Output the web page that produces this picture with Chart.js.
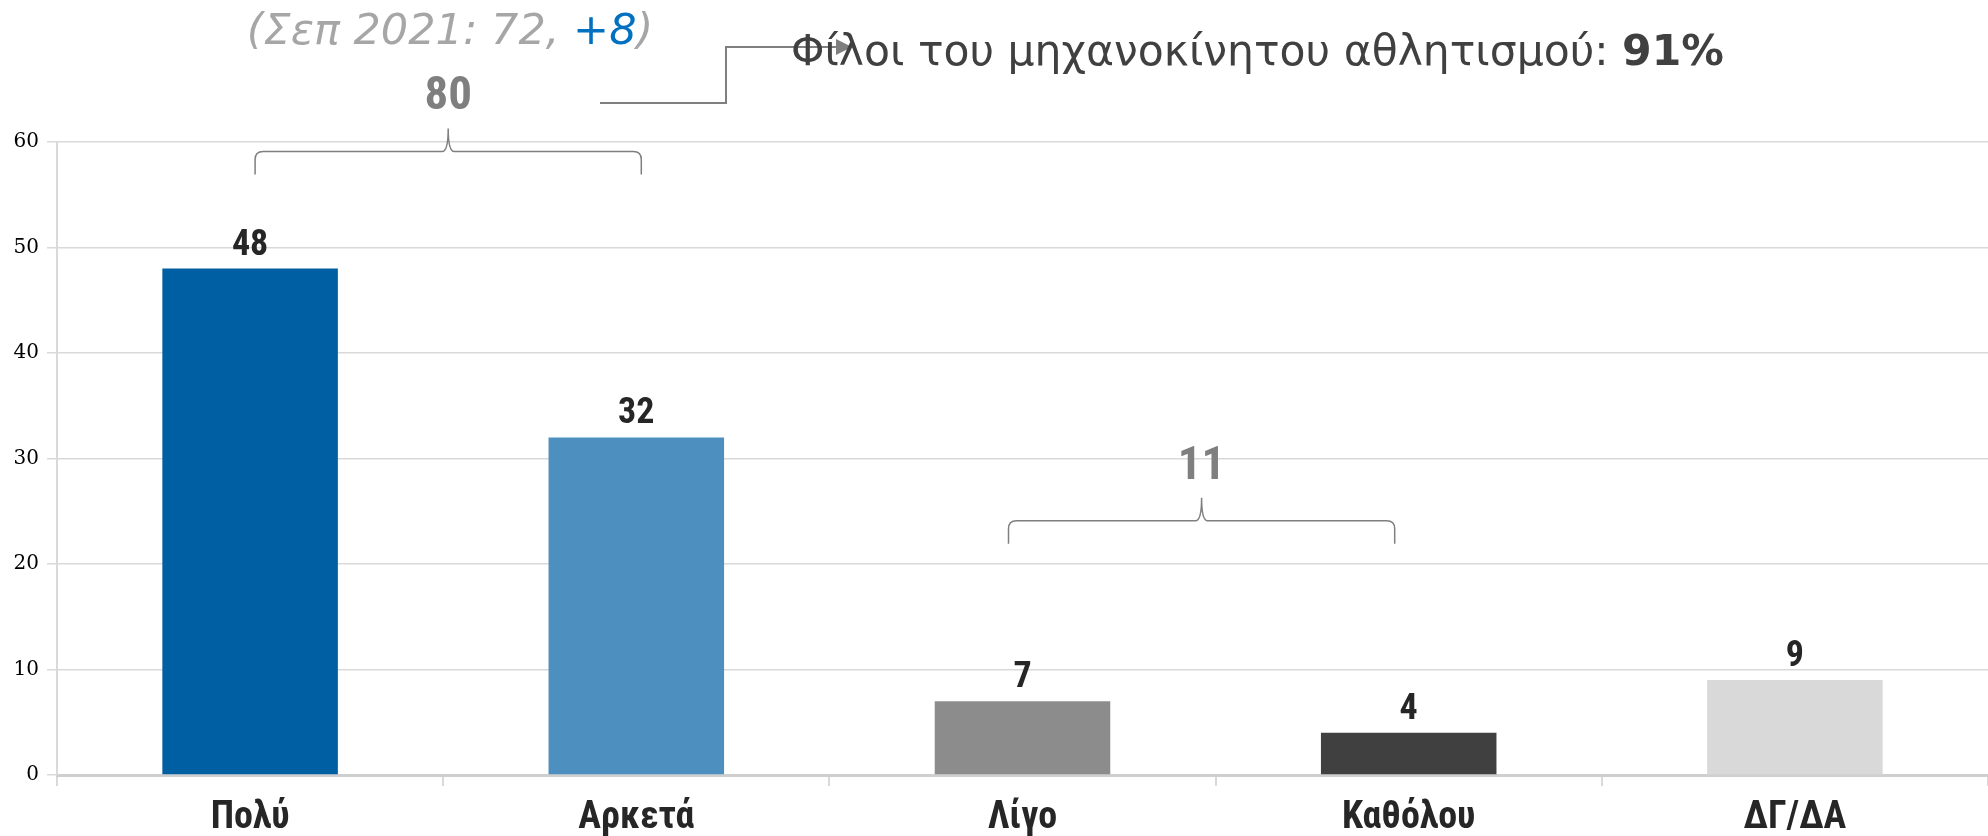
<!DOCTYPE html>
<html>
<head>
<meta charset="utf-8">
<script src="https://cdn.jsdelivr.net/npm/chart.js@4.4.1/dist/chart.umd.min.js"></script>
<style>
  html, body { margin: 0; padding: 0; background: #fff; }
  #wrap { position: relative; width: 1988px; height: 836px; }
</style>
</head>
<body>
<div id="wrap"><canvas id="chart" width="1988" height="836"></canvas></div>
<script>
// categories and values
const categories = ["Πολύ", "Αρκετά", "Λίγο", "Καθόλου", "ΔΓ/ΔΑ"];
const values = [48, 32, 7, 4, 9];
const barColors = ["#005ea2", "#4d8fbf", "#8c8c8c", "#404040", "#d9d9d9"];
const yTicks = [0, 10, 20, 30, 40, 50, 60];

// bracket groups: first / last category, sum label, bracket level (axis value)
const groupFirst = [0, 2];
const groupLast = [1, 3];
const groupSums = ["80", "11"];
const groupLevels = [59.1, 24.1];

// header texts
const prevText = "(Σεπ 2021: 72, ";
const prevDelta = "+8";
const fansText = "Φίλοι του μηχανοκίνητου αθλητισμού: ";
const fansValue = "91%";

const narrow = "'Roboto Condensed', 'DejaVu Sans Condensed', Roboto, sans-serif";

const annotations = {
  id: "annotations",
  afterDatasetsDraw(chart) {
    const ctx = chart.ctx;
    const x = chart.scales.x;
    const y = chart.scales.y;
    const meta = chart.getDatasetMeta(0);

    // value labels above bars
    ctx.save();
    ctx.fillStyle = "#262626";
    ctx.font = "bold 36px " + narrow;
    ctx.textAlign = "center";
    ctx.textBaseline = "alphabetic";
    meta.data.forEach((bar, i) => {
      ctx.fillText(String(values[i]), bar.x, bar.y - 14);
    });
    ctx.restore();

    // curly brackets with sums
    ctx.save();
    ctx.strokeStyle = "#7f7f7f";
    ctx.lineWidth = 1.5;
    groupFirst.forEach((f, g) => {
      const shift = g === 0 ? 5 : -14;
      const x1 = x.getPixelForValue(f) + shift;
      const x2 = x.getPixelForValue(groupLast[g]) + shift;
      const yb = y.getPixelForValue(groupLevels[g]);
      const mid = (x1 + x2) / 2;
      const r = 8;
      ctx.beginPath();
      ctx.moveTo(x1, yb + 23);
      ctx.lineTo(x1, yb + r);
      ctx.quadraticCurveTo(x1, yb, x1 + r, yb);
      ctx.lineTo(mid - 6, yb);
      ctx.quadraticCurveTo(mid, yb, mid, yb - 23);
      ctx.quadraticCurveTo(mid, yb, mid + 6, yb);
      ctx.lineTo(x2 - r, yb);
      ctx.quadraticCurveTo(x2, yb, x2, yb + r);
      ctx.lineTo(x2, yb + 23);
      ctx.stroke();

      ctx.fillStyle = "#7f7f7f";
      ctx.font = "bold 47px " + narrow;
      ctx.textAlign = "center";
      ctx.textBaseline = "alphabetic";
      ctx.fillText(groupSums[g], mid, yb - 42);
    });
    ctx.restore();
  },
  afterDraw(chart) {
    const ctx = chart.ctx;
    ctx.save();
    // previous wave text
    ctx.font = "italic 43px 'DejaVu Sans', sans-serif";
    ctx.textBaseline = "alphabetic";
    const w1 = ctx.measureText(prevText).width;
    const w2 = ctx.measureText(prevDelta).width;
    const w3 = ctx.measureText(")").width;
    const sx = 450 - (w1 + w2 + w3) / 2;
    ctx.fillStyle = "#a6a6a6";
    ctx.fillText(prevText, sx, 44);
    ctx.fillStyle = "#0070c0";
    ctx.fillText(prevDelta, sx + w1, 44);
    ctx.fillStyle = "#a6a6a6";
    ctx.fillText(")", sx + w1 + w2, 44);

    // connector arrow
    ctx.strokeStyle = "#7f7f7f";
    ctx.lineWidth = 2;
    ctx.beginPath();
    ctx.moveTo(600, 103);
    ctx.lineTo(726, 103);
    ctx.lineTo(726, 47);
    ctx.lineTo(838, 47);
    ctx.stroke();
    ctx.fillStyle = "#7f7f7f";
    ctx.beginPath();
    ctx.moveTo(852, 47);
    ctx.lineTo(836, 39);
    ctx.lineTo(836, 55);
    ctx.closePath();
    ctx.fill();

    // fans text
    ctx.fillStyle = "#404040";
    ctx.font = "42.5px 'DejaVu Sans', sans-serif";
    ctx.fillText(fansText, 791, 65);
    const wf = ctx.measureText(fansText).width;
    ctx.font = "bold 42.5px 'DejaVu Sans', sans-serif";
    ctx.fillText(fansValue, 791 + wf, 65);
    ctx.restore();
  },
};

new Chart(document.getElementById("chart"), {
  type: "bar",
  data: {
    labels: categories,
    datasets: [
      {
        data: values,
        backgroundColor: barColors,
        borderWidth: 0,
        barPercentage: 0.4545,
        categoryPercentage: 1.0,
      },
    ],
  },
  options: {
    responsive: false,
    animation: false,
    layout: {
      padding: { top: 142, right: 0, bottom: 0, left: 0 },
    },
    plugins: {
      legend: { display: false },
      tooltip: { enabled: false },
    },
    scales: {
      x: {
        offset: true,
        afterFit: (scale) => { scale.height = 61; },
        grid: {
          offset: true,
          drawOnChartArea: false,
          drawTicks: true,
          tickLength: 11,
          color: "#d9d9d9",
          lineWidth: 2,
        },
        border: { display: true, color: "#cfcfcf", width: 3 },
        ticks: {
          color: "#262626",
          padding: 10,
          font: { family: narrow, size: 38, weight: "bold" },
        },
      },
      y: {
        min: 0,
        max: 60,
        afterFit: (scale) => { scale.width = 57; },
        afterBuildTicks: (scale) => {
          scale.ticks = yTicks.map((v) => ({ value: v }));
        },
        grid: {
          color: "#d9d9d9",
          lineWidth: 1.5,
          tickLength: 10,
        },
        border: { display: true, color: "#d9d9d9", width: 2 },
        ticks: {
          color: "#000",
          padding: 8,
          font: { family: "'DejaVu Serif', serif", size: 20 },
        },
      },
    },
  },
  plugins: [annotations],
});
</script>
</body>
</html>
